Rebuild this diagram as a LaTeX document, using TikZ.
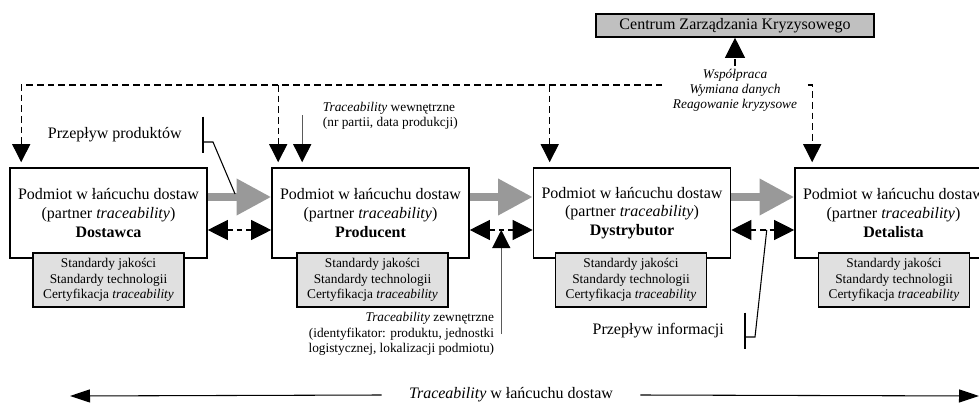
\documentclass[tikz,border=0pt]{standalone}
\usepackage{fontspec}
\setmainfont{Liberation Serif}
\usetikzlibrary{arrows.meta}
\definecolor{boxgray}{RGB}{224, 224, 224}
\definecolor{crisisgray}{RGB}{192, 192, 192}
\definecolor{flowgray}{RGB}{153, 153, 153}
\definecolor{leadgray}{RGB}{90, 90, 90}
\tikzset{
    partner/.style   ={draw=black, line width=1.2pt, fill=white, align=center, inner sep=0pt,
                       minimum width=147.75pt, minimum height=67.5pt, font=\fontsize{12}{14}\selectfont},
    standards/.style ={draw=black, line width=1.2pt, fill=boxgray, align=center, inner sep=0pt,
                       minimum width=113.25pt, minimum height=40.5pt, font=\fontsize{10}{11.5}\selectfont},
    crisis/.style    ={draw=black, line width=1.2pt, fill=crisisgray, inner sep=0pt,
                       minimum width=208.5pt, minimum height=17.25pt, font=\fontsize{12}{14}\selectfont},
    coop/.style      ={align=center, inner xsep=0pt, inner ysep=2pt, minimum width=108.75pt,
                       font=\fontsize{10}{11.25}\selectfont\itshape},
    note/.style      ={inner sep=2pt, font=\fontsize{10}{11.5}\selectfont},
    flowlabel/.style ={inner ysep=0pt, inner xsep=15.75pt, minimum height=27pt, font=\fontsize{12}{14}\selectfont},
    chainlabel/.style={inner sep=0pt, minimum width=193.5pt, font=\fontsize{12}{14}\selectfont},
    prodflow/.style  ={draw=flowgray, line width=6pt, -{Triangle[length=26pt, width=26pt]}},
    infoflow/.style  ={draw=black, line width=0.8pt, dash pattern=on 4pt off 3pt,
                       {Triangle[length=15pt, width=15pt]}-{Triangle[length=15pt, width=15pt]}},
    coopline/.style  ={draw=black, line width=0.8pt, dash pattern=on 5pt off 3pt},
    coopdown/.style  ={coopline, -{Triangle[length=13.5pt, width=13.5pt]}, shorten >=3.75pt},
    coopup/.style    ={coopline, -{Triangle[length=15pt, width=15pt]}},
    leadline/.style  ={draw=leadgray, line width=0.8pt, -{Triangle[length=13.5pt, width=13.5pt, color=black]}},
    pointer/.style   ={draw=black, line width=0.8pt},
    chainarrow/.style={draw=black, line width=0.8pt, -{Triangle[length=15pt, width=9.75pt]}}
}
\begin{document}
\begin{tikzpicture}[x=0.75pt, y=-0.75pt]
            \useasboundingbox (0,0) rectangle (979,403);
            \clip (0,0) rectangle (979,403);

            \node[partner]   (sup)  at (108.5,213) {Podmiot w łańcuchu dostaw\\(partner \textit{traceability})\\\textbf{Dostawca}};
            \node[partner]   (prod) at (370.5,213) {Podmiot w łańcuchu dostaw\\(partner \textit{traceability})\\\textbf{Producent}};
            \node[partner]   (dist) at (632.0,213) {Podmiot w łańcuchu dostaw\\(partner \textit{traceability})\\\textbf{Dystrybutor}};
            \node[partner]   (ret)  at (893.5,213) {Podmiot w łańcuchu dostaw\\(partner \textit{traceability})\\\textbf{Detalista}};

            \node[standards] (std1) at (108.5,280) {Standardy jakości\\Standardy technologii\\Certyfikacja \textit{traceability}};
            \node[standards] (std2) at (372.5,280) {Standardy jakości\\Standardy technologii\\Certyfikacja \textit{traceability}};
            \node[standards] (std3) at (631.0,280) {Standardy jakości\\Standardy technologii\\Certyfikacja \textit{traceability}};
            \node[standards] (std4) at (894.0,280) {Standardy jakości\\Standardy technologii\\Certyfikacja \textit{traceability}};

            \node[crisis]    (czk)  at (735,25.5) {Centrum Zarządzania Kryzysowego};
            \node[coop]      (coop) at (735,90)   {Współpraca\\Wymiana danych\\Reagowanie kryzysowe};

            \node[note, anchor=west, align=left]  (intl) at (320,115.5) {\textit{Traceability} wewnętrzne\\(nr partii, data produkcji)};
            \node[note, anchor=east, align=right] (extl) at (497,334)   {\textit{Traceability} zewnętrzne\\(identyfikator: produktu, jednostki\\logistycznej, lokalizacji podmiotu)};
            \node[flowlabel, anchor=east] (prodlbl) at (203,135) {Przepływ produktów};
            \node[flowlabel, anchor=east] (infolbl) at (745,331) {Przepływ informacji};
            \node[chainlabel] (chain) at (511,395) {\textit{Traceability} w łańcuchu dostaw};

            \coordinate (top)    at (0,85);
            \coordinate (chainL) at (70,396);
            \coordinate (chainR) at (979,396);
            \coordinate (in1)    at ([xshift=9pt]sup.north west);
            \coordinate (in2)    at ([xshift=5.25pt]prod.north west);
            \coordinate (in3)    at ([xshift=12.75pt]dist.north west);
            \coordinate (in4)    at ([xshift=13.5pt]ret.north west);
            \coordinate (intin)  at ([xshift=23.25pt]prod.north west);

            \draw[coopdown] (coop.west |- top) -| (in1);
            \draw[coopdown] (in2 |- top) -- (in2);
            \draw[coopdown] (in3 |- top) -- (in3);
            \draw[coopdown] (coop.east |- top) -| (in4);
            \draw[coopup]   (coop.north) -- (czk.south);

            \draw[prodflow] ([yshift=12pt]sup.east)  -- coordinate[pos=.43] (f12) ([yshift=12pt]prod.west);
            \draw[prodflow] ([yshift=12pt]prod.east) -- ([yshift=12pt]dist.west);
            \draw[prodflow] ([yshift=12pt]dist.east) -- ([yshift=12pt]ret.west);

            \draw[infoflow] ([yshift=-12.75pt]sup.east)  -- ([yshift=-12.75pt]prod.west);
            \draw[infoflow] ([yshift=-12.75pt]prod.east) -- coordinate[pos=.5] (m23) ([yshift=-12.75pt]dist.west);
            \draw[infoflow] ([yshift=-12.75pt]dist.east) -- coordinate[pos=.5] (m34) ([yshift=-12.75pt]ret.west);

            \draw[leadline, shorten >=3.75pt] (intin |- intl.west) -- (intin);
            \draw[leadline] (m23 |- extl.east) -- (m23);

            \draw[pointer] (prodlbl.north east) -- (prodlbl.south east);
            \draw[pointer] ([yshift=-5.25pt]prodlbl.east) -- ++(10,0) -- ([yshift=2.25pt]f12);
            \draw[pointer] (infolbl.north east) -- (infolbl.south east);
            \draw[pointer] ([yshift=-4.5pt]infolbl.east) -- ++(10,0) -- ([xshift=3pt]m34);

            \draw[chainarrow] (chain.west) -- (chainL);
            \draw[chainarrow] (chain.east) -- (chainR);
        \end{tikzpicture}
\end{document}
